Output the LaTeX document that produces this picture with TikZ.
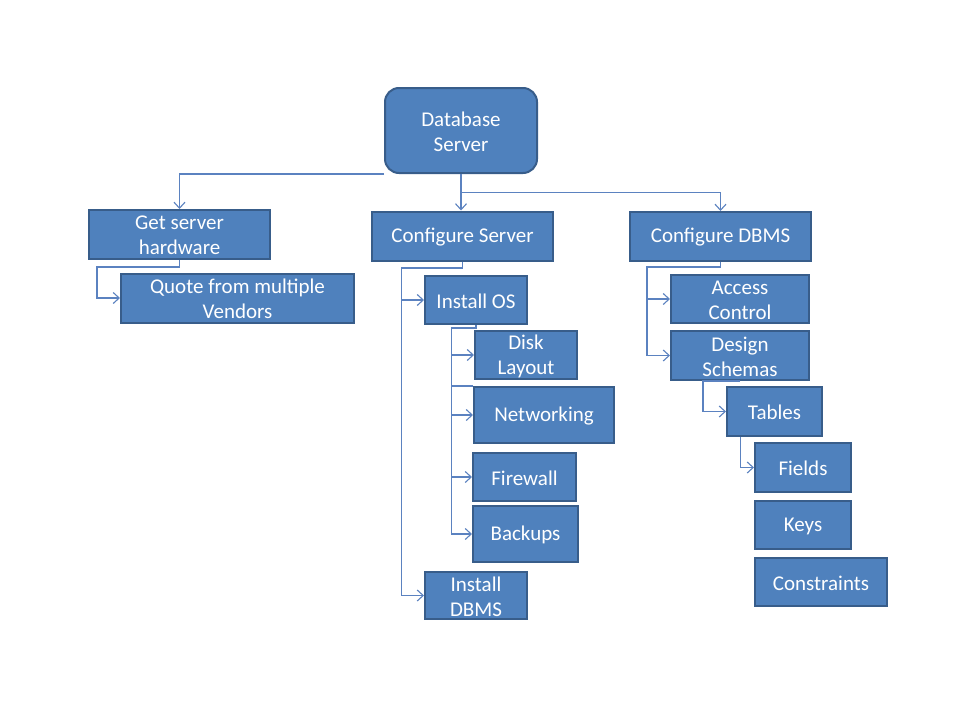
\documentclass[tikz,border=0pt]{standalone}
\usepackage{fontspec}
\setmainfont{Carlito}
\usetikzlibrary{arrows.meta}
\definecolor{boxfill}{HTML}{4F81BD}
\definecolor{boxline}{HTML}{385D8A}
\definecolor{connc}{HTML}{5B82C0}
\tikzset{
  box/.style={draw=boxline, fill=boxfill, line width=2pt, inner sep=0pt},
  txt/.style={text=white, align=center, font=\fontsize{21}{25}\selectfont, inner sep=0pt, yshift=-1pt},
  conn/.style={draw=connc, line width=1.1pt, -{Straight Barb[length=6pt,width=11pt,line width=1.1pt]}},
  plain/.style={draw=connc, line width=1.1pt},
}
\begin{document}
\begin{tikzpicture}[x=1pt,y=-1pt]
\useasboundingbox[fill=white] (0,0) rectangle (960,720);
% boxes
\node[box, rounded corners=14pt, minimum width=152pt, minimum height=85pt, label={[txt]center:Database\\Server}] (db) at (461,130.5) {};
\node[box, minimum width=181pt, minimum height=49pt, label={[txt]center:Get server\\hardware}] (get) at (179.5,234.5) {};
\node[box, minimum width=233pt, minimum height=49pt, label={[txt]center:Quote from multiple\\Vendors}] (quote) at (237.5,298) {};
\node[box, minimum width=181pt, minimum height=49pt, label={[txt]center:Configure Server}] (cs) at (462.5,236) {};
\node[box, minimum width=181pt, minimum height=49pt, label={[txt]center:Configure DBMS}] (cd) at (720.5,236.5) {};
\node[box, minimum width=102pt, minimum height=48pt, label={[txt]center:Install OS}] (ios) at (476,300) {};
\node[box, minimum width=102pt, minimum height=48pt, label={[txt]center:Disk\\Layout}] (disk) at (526,355) {};
\node[box, minimum width=140pt, minimum height=56pt, label={[txt]center:Networking}] (net) at (544,415) {};
\node[box, minimum width=103pt, minimum height=48pt, label={[txt]center:Firewall}] (fw) at (524.5,477) {};
\node[box, minimum width=105pt, minimum height=56pt, label={[txt]center:Backups}] (bk) at (525.5,534) {};
\node[box, minimum width=102pt, minimum height=47pt, label={[txt]center:Install\\DBMS}] (idbms) at (476,595.5) {};
\node[box, minimum width=138pt, minimum height=48pt, label={[txt]center:Access\\Control}] (ac) at (740,299) {};
\node[box, minimum width=138pt, minimum height=49pt, label={[txt]center:Design\\Schemas}] (ds) at (740,355.5) {};
\node[box, minimum width=95pt, minimum height=49pt, label={[txt]center:Tables}] (tab) at (774.5,411.5) {};
\node[box, minimum width=96pt, minimum height=49pt, label={[txt]center:Fields}] (fld) at (803,467.5) {};
\node[box, minimum width=96pt, minimum height=48pt, label={[txt]center:Keys}] (keys) at (803,525) {};
\node[box, minimum width=132pt, minimum height=48pt, label={[txt]center:Constraints}] (con) at (821,582) {};
% junction coordinates
\coordinate (dbj) at (461,192.5);
\coordinate (gq) at (97,267);
\coordinate (csj) at (401.5,268);
\coordinate (osj) at (451.5,328);
\coordinate (cdj) at (647,267);
\coordinate (dsj) at (703,381);
\coordinate (tb) at (740.5,437);
% connectors
\draw[conn] (db.south west) -| (get.north);
\draw[conn] (db.south) -- (db.south |- cs.north);
\draw[conn] (dbj) -| (cd.north);
\draw[conn] (get.south) |- (gq) |- (quote.west);
\draw[conn] (cs.south) |- (csj) |- (ios.west);
\draw[conn] (csj) |- (idbms.west);
\draw[conn] (ios.south) |- (osj) |- (disk.west);
\draw[conn] (osj) |- (net.west);
\draw[conn] (osj) |- (fw.west);
\draw[conn] (osj) |- (bk.west);
\draw[plain] (net.north west) -- (osj |- net.north west);
\draw[conn] (cd.south) |- (cdj) |- (ac.west);
\draw[conn] (cdj) |- (ds.west);
\draw[conn] (ds.south) -- (ds.south -| dsj) |- (tab.west);
\draw[conn] (tb) |- (fld.west);
\end{tikzpicture}
\end{document}
